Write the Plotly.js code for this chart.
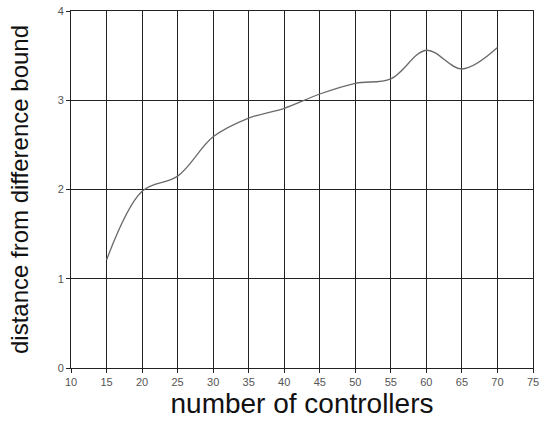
<!DOCTYPE html>
<html>
<head>
<meta charset="utf-8">
<script src="https://cdn.plot.ly/plotly-3.0.1.min.js"></script>
<style>
  html, body { margin: 0; padding: 0; background: #fff; }
  #chart { width: 550px; height: 425px; }
</style>
</head>
<body>
<div id="chart"></div>
<script>
// controllers vs distance from difference bound
var controllers = [15, 20, 25, 30, 35, 40, 45, 50, 55, 60, 65, 70];
var distance = [1.21, 1.98, 2.15, 2.59, 2.80, 2.91, 3.07, 3.19, 3.24, 3.56, 3.35, 3.59];

var xTicks = [10, 15, 20, 25, 30, 35, 40, 45, 50, 55, 60, 65, 70, 75];
var yTicks = [0, 1, 2, 3, 4];

var trace = {
    x: controllers,
    y: distance,
    mode: "lines",
    type: "scatter",
    line: { color: "#6a6a6a", width: 1.3, shape: "spline", smoothing: 1 },
    hoverinfo: "none"
};

var axisCommon = {
    showgrid: true,
    gridcolor: "#222",
    gridwidth: 1,
    zeroline: false,
    showline: true,
    linecolor: "#222",
    linewidth: 1,
    mirror: true,
    ticks: "outside",
    ticklen: 4,
    tickcolor: "#222",
    tickfont: { family: "Liberation Sans, Arial, sans-serif", size: 11, color: "#555" }
};

var layout = {
    width: 550,
    height: 425,
    margin: { l: 71, r: 17, t: 11, b: 57 },
    paper_bgcolor: "#fff",
    plot_bgcolor: "#fff",
    showlegend: false,
    xaxis: Object.assign({}, axisCommon, {
        range: [10, 75],
        tickvals: xTicks,
        ticktext: xTicks.map(String),
        title: { text: "number of controllers", font: { family: "Liberation Sans, Arial, sans-serif", size: 28, color: "#111" }, standoff: 5 }
    }),
    yaxis: Object.assign({}, axisCommon, {
        range: [0, 4],
        tickvals: yTicks,
        ticktext: yTicks.map(String),
        title: { text: "distance from difference bound", font: { family: "Liberation Sans, Arial, sans-serif", size: 24, color: "#111" }, standoff: 22 }
    })
};

Plotly.newPlot("chart", [trace], layout, { displayModeBar: false, staticPlot: true });
</script>
</body>
</html>
